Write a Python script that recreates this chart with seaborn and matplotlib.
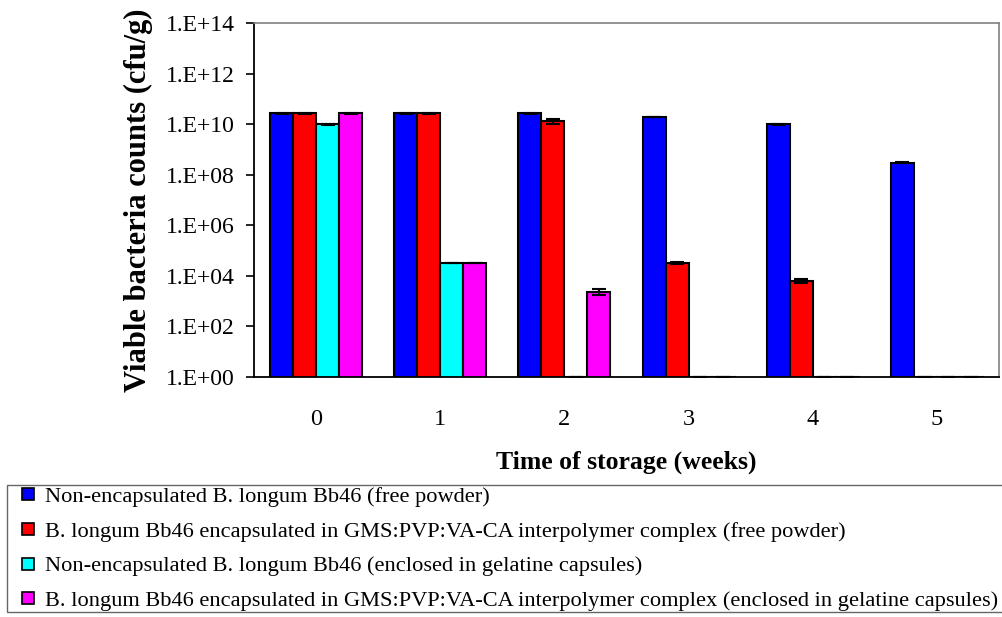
import matplotlib
matplotlib.use("Agg")
import matplotlib.pyplot as plt
from matplotlib.lines import Line2D
import seaborn as sns
import pandas as pd
import numpy as np

sns.set_theme(style="white")
plt.rcParams["font.family"] = ["Liberation Serif", "DejaVu Serif"]
plt.rcParams["text.color"] = "black"
plt.rcParams["axes.labelcolor"] = "black"
plt.rcParams["xtick.color"] = "black"
plt.rcParams["ytick.color"] = "black"

weeks = ["0", "1", "2", "3", "4", "5"]
series = [
    "Non-encapsulated B. longum Bb46 (free powder)",
    "B. longum Bb46 encapsulated in GMS:PVP:VA-CA interpolymer complex (free powder)",
    "Non-encapsulated B. longum Bb46 (enclosed in gelatine capsules)",
    "B. longum Bb46 encapsulated in GMS:PVP:VA-CA interpolymer complex (enclosed in gelatine capsules)",
]
colors = ["#0000FF", "#FF0000", "#00FFFF", "#FF00FF"]

free_nonenc = [2.7e10, 2.7e10, 2.7e10, 1.9e10, 9.8e9, 3.0e8]
free_enc = [2.7e10, 2.7e10, 1.3e10, 3.2e4, 6.3e3, 1.0]
caps_nonenc = [9.8e9, 3.2e4, 1.0, 1.0, 1.0, 1.0]
caps_enc = [2.7e10, 3.2e4, 2.4e3, 1.0, 1.0, 1.0]

err_free_nonenc = [1.0e9, 1.0e9, 1.0e9, 5e8, 3e8, 1e7]
err_free_enc = [1.0e9, 1.0e9, 2.8e9, 2.0e3, 1.2e3, 0.0]
err_caps_nonenc = [3e8, 1.0e3, 0.0, 0.0, 0.0, 0.0]
err_caps_enc = [1.0e9, 1.0e3, 6.0e2, 0.0, 0.0, 0.0]

all_vals = [free_nonenc, free_enc, caps_nonenc, caps_enc]
all_errs = [err_free_nonenc, err_free_enc, err_caps_nonenc, err_caps_enc]

rows = []
for s, vals in zip(series, all_vals):
    for w, v in zip(weeks, vals):
        rows.append({"week": w, "series": s, "value": v})
df = pd.DataFrame(rows)

fig = plt.figure(figsize=(10.03, 6.17), dpi=100)
ax = fig.add_axes([0.2532, 0.389, 0.7428, 0.5737])

sns.barplot(data=df, x="week", y="value", hue="series", hue_order=series,
            order=weeks, palette=colors, width=0.74, errorbar=None,
            edgecolor="black", linewidth=1.5, saturation=1, ax=ax,
            log_scale=(False, True), legend=False)

for cont, vals, errs in zip(ax.containers, all_vals, all_errs):
    xs = [p.get_x() + p.get_width() / 2 for p in cont.patches]
    ax.errorbar(xs, vals, yerr=errs, fmt="none", ecolor="black",
                elinewidth=1.5, capsize=5, capthick=1.5, zorder=5)

ax.set_yscale("log")
ax.set_ylim(1, 1e14)
yt = [10.0 ** k for k in range(0, 15, 2)]
ax.set_yticks(yt)
ax.set_yticklabels([f"1.E+{k:02d}" for k in range(0, 15, 2)], fontsize=17)
ax.yaxis.set_minor_locator(matplotlib.ticker.NullLocator())
ax.set_xlim(-0.5, 5.5)
ax.set_xticks(range(6))
ax.set_xticklabels(weeks, fontsize=17.5)
ax.set_xticks(np.arange(-0.5, 6.0, 1.0), minor=True)
ax.tick_params(axis="x", which="major", length=0, pad=23)
ax.tick_params(axis="x", which="minor", length=6, width=1.2, color="black", direction="out")
ax.tick_params(axis="y", which="major", length=6, width=1.2, color="black", direction="out", left=True, pad=8)

for side in ["left", "bottom"]:
    ax.spines[side].set_color("black")
    ax.spines[side].set_linewidth(1.3)
for side in ["top", "right"]:
    ax.spines[side].set_color("#808080")
    ax.spines[side].set_linewidth(1.2)
    ax.spines[side].set_visible(True)

ax.set_ylabel("Viable bacteria counts (cfu/g)", fontsize=22, fontweight="bold", labelpad=9)
ax.set_xlabel("Time of storage (weeks)", fontsize=18.5, fontweight="bold", labelpad=15)

handles = [Line2D([0], [0], marker="s", linestyle="none", markersize=8.5,
                  markerfacecolor=c, markeredgecolor="black", markeredgewidth=1.2)
           for c in colors]
leg = fig.legend(handles, series, loc="upper left",
                 bbox_to_anchor=(0.007, 0.0, 0.995, 0.214), mode="expand",
                 borderaxespad=0, fontsize=16.15, frameon=True, fancybox=False,
                 edgecolor="#404040", handlelength=1.8, handleheight=0.7,
                 handletextpad=-0.15, labelspacing=0.63, borderpad=0.05)
leg.get_frame().set_linewidth(1.0)

fig.savefig("out.png", dpi=100)
